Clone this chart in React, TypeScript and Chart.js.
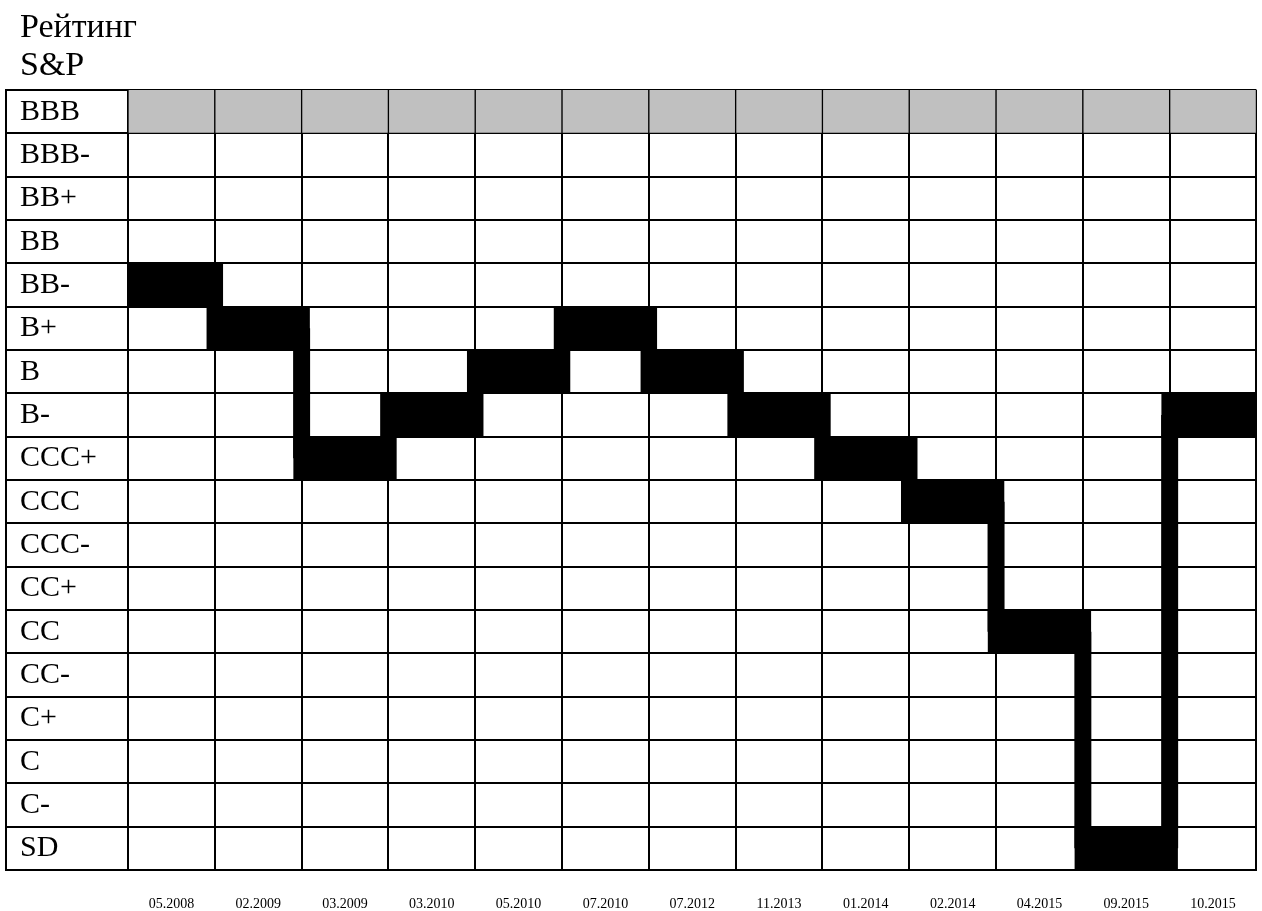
import React, { useEffect, useRef } from 'react';
import { Chart, registerables } from 'chart.js';

Chart.register(...registerables);

const TITLE_LINES = ['Рейтинг', 'S&P'];
const DATES = ['05.2008', '02.2009', '03.2009', '03.2010', '05.2010', '07.2010', '07.2012', '11.2013', '01.2014', '02.2014', '04.2015', '09.2015', '10.2015'];
const RATINGS = ['BBB', 'BBB-', 'BB+', 'BB', 'BB-', 'B+', 'B', 'B-', 'CCC+', 'CCC', 'CCC-', 'CC+', 'CC', 'CC-', 'C+', 'C', 'C-', 'SD'];
const RATING_PATH = ['BB-', 'B+', 'CCC+', 'B-', 'B', 'B+', 'B', 'B-', 'CCC+', 'CCC', 'CC', 'SD', 'B-'];
const HIGHLIGHT_RATING = 'BBB';

const FONT = "'Liberation Serif', 'Times New Roman', serif";
const LABEL_COL = 122;

export default function App() {
  const ref = useRef<HTMLCanvasElement>(null);

  useEffect(() => {
    if (!ref.current) return;
    const idx = (r: string) => RATINGS.indexOf(r);
    const pathIdx = RATING_PATH.map(idx);
    const stepBars = pathIdx.map((i) => [i - 0.5, i + 0.5]);
    const hi = idx(HIGHLIGHT_RATING);
    const highlightBars = DATES.map(() => [hi - 0.5, hi + 0.5]);
    const connectors: any[] = [];
    for (let i = 1; i < pathIdx.length; i++) {
      if (Math.abs(pathIdx[i] - pathIdx[i - 1]) > 1) {
        connectors.push({ x: i - 0.5, y: pathIdx[i - 1] }, { x: i - 0.5, y: pathIdx[i] }, { x: i - 0.5, y: null });
      }
    }

    const framePlugin = {
      id: 'tableFrame',
      afterDraw(chart: any) {
        const { ctx, chartArea } = chart;
        ctx.save();
        ctx.strokeStyle = '#000';
        ctx.lineWidth = 2;
        const x = chartArea.left - LABEL_COL;
        ctx.beginPath();
        ctx.moveTo(x, chartArea.top - 1);
        ctx.lineTo(x, chartArea.bottom + 1);
        ctx.stroke();
        ctx.fillStyle = '#000';
        ctx.font = `34px ${FONT}`;
        ctx.textBaseline = 'alphabetic';
        ctx.textAlign = 'left';
        TITLE_LINES.forEach((t, i) => ctx.fillText(t, 20, 37 + i * 38));
        ctx.restore();
      },
    };

    const chart = new Chart(ref.current, {
      type: 'bar',
      data: {
        labels: DATES,
        datasets: [
          {
            type: 'line',
            data: connectors,
            xAxisID: 'xv',
            yAxisID: 'yv',
            borderColor: '#000',
            borderWidth: 17,
            borderCapStyle: 'butt',
            pointRadius: 0,
            spanGaps: false,
            tension: 0,
            order: 0,
          } as any,
          {
            type: 'bar',
            data: stepBars,
            xAxisID: 'x',
            yAxisID: 'yv',
            backgroundColor: '#000',
            borderWidth: 0,
            barPercentage: 1.19,
            categoryPercentage: 1,
            grouped: false,
            clip: 0,
            order: 1,
          } as any,
          {
            type: 'bar',
            data: highlightBars,
            xAxisID: 'x',
            yAxisID: 'yv',
            backgroundColor: '#c0c0c0',
            borderColor: '#000',
            borderWidth: 1,
            barPercentage: 1,
            categoryPercentage: 1,
            grouped: false,
            clip: 0,
            order: 2,
          } as any,
        ],
      },
      options: {
        animation: false,
        responsive: true,
        maintainAspectRatio: false,
        events: [],
        layout: { padding: { left: 20, top: 90, right: 5, bottom: 0 } },
        plugins: { legend: { display: false }, tooltip: { enabled: false } },
        scales: {
          x: {
            type: 'category',
            labels: DATES,
            offset: true,
            grid: { offset: true, color: '#000', lineWidth: 2, drawTicks: false },
            border: { color: '#000', width: 2 },
            ticks: { font: { family: FONT, size: 14 }, color: '#000', padding: 26, autoSkip: false, maxRotation: 0 },
            afterFit: (s: any) => { s.height = 41; },
          },
          y: {
            type: 'category',
            labels: RATINGS,
            offset: true,
            position: 'left',
            grid: { offset: true, color: '#000', lineWidth: 2, drawTicks: true, tickLength: LABEL_COL, tickColor: '#000', tickWidth: 2 },
            border: { color: '#000', width: 2 },
            ticks: { crossAlign: 'far', font: { family: FONT, size: 30 }, color: '#000', autoSkip: false },
            afterFit: (s: any) => { s.width = 108; },
          },
          xv: { type: 'linear', display: false, offset: false, min: -0.5, max: DATES.length - 0.5 },
          yv: { type: 'linear', display: false, offset: false, reverse: true, min: -0.5, max: RATINGS.length - 0.5 },
        } as any,
      },
      plugins: [framePlugin],
    });
    return () => chart.destroy();
  }, []);

  return (
    <div style={{ position: 'absolute', left: 0, top: 0, width: 1262, height: 911, background: '#fff' }}>
      <canvas ref={ref} />
    </div>
  );
}
